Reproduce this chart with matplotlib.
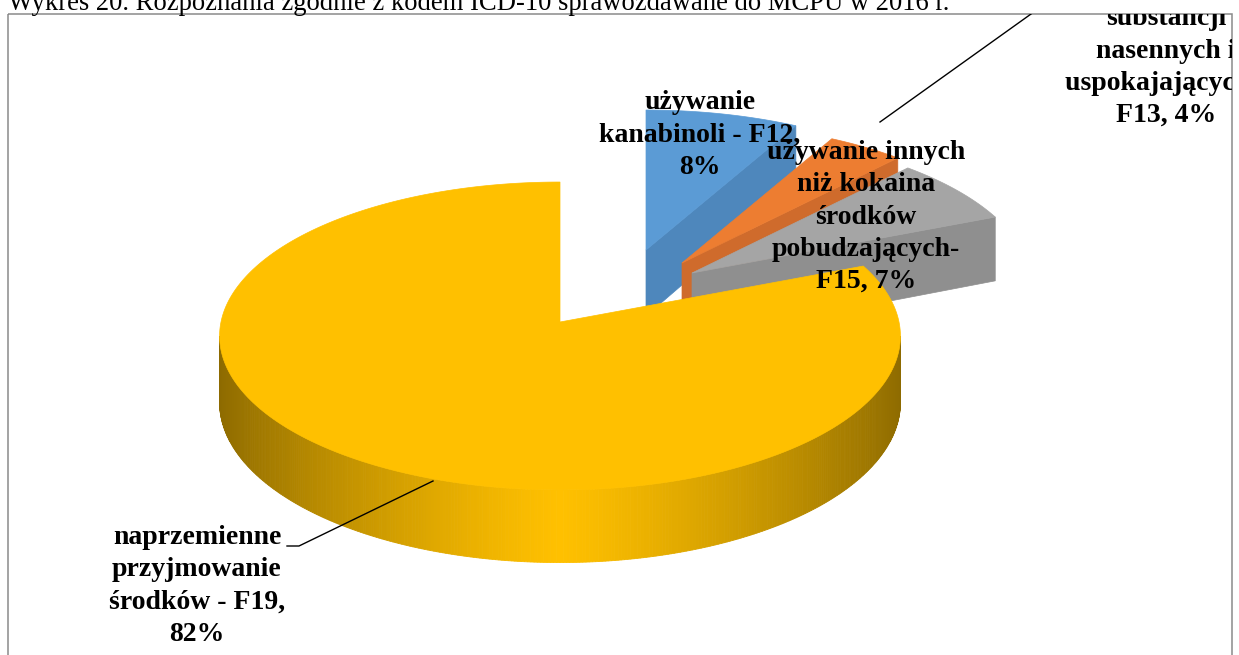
import numpy as np
import matplotlib
matplotlib.use("Agg")
import matplotlib.pyplot as plt
from matplotlib.patches import Polygon, Rectangle
from matplotlib.colors import to_rgb
from matplotlib.transforms import Bbox

# ---------------- data ----------------
title = "Wykres 20. Rozpoznania zgodnie z kodem ICD-10 sprawozdawane do MCPU w 2016 r."
categories = [
    "używanie\nkanabinoli - F12",
    "używanie\nsubstancji\nnasennych i\nuspokajających -\nF13",
    "używanie innych\nniż kokaina\nśrodków\npobudzających-\nF15",
    "naprzemienne\nprzyjmowanie\nśrodków - F19",
]
values = [8, 4, 7, 82]  # percent
colors = ["#5B9BD5", "#ED7D31", "#A5A5A5", "#FFC000"]
wall_colors = ["#4E87BC", "#CF6B2C", "#8F8F8F", "#C89600"]
label_sep = [",\n", ", ", ", ", ",\n"]

# ---------------- layout (pixel space) ----------------
W, H = 1239, 655
CX, CY = 560, 322
RX, RY = 339, 152.7
P = 0.0909      # perspective
T = 66          # thickness
explode = [(86, -72), (122, -59), (132, -49), (0, 0)]
label_pos = [(700, 135), (1166, 51), (866, 217), (197, 586)]

fig = plt.figure(figsize=(W / 100, H / 100), dpi=100)
ax = fig.add_axes([0, 0, 1, 1])
ax.set_xlim(0, W)
ax.set_ylim(H, 0)
ax.axis("off")


def proj(theta_deg, r, z, off):
    th = np.radians(theta_deg)
    u = r * np.sin(th)
    v = r * np.cos(th)
    s = 1.0 / (1.0 + P * v)
    X = CX + off[0] + RX * u * s
    Y = CY + off[1] - RY * v * s + T * z * s
    return X, Y


def shade(color, f):
    c = np.array(to_rgb(color))
    return tuple(np.clip(c * f, 0, 1))


total = float(sum(values))
starts = np.concatenate([[0], np.cumsum(values)[:-1]]) / total * 360
ends = np.cumsum(values) / total * 360

sil1 = np.degrees(np.arccos(-P))
sil2 = 360 - sil1

for i, (a, b) in enumerate(zip(starts, ends)):
    off = explode[i]
    col = colors[i]
    # front curved wall (gradient)
    lo, hi = max(a, sil1), min(b, sil2)
    if hi > lo:
        ths = np.linspace(lo, hi, int((hi - lo) * 2) + 2)
        for t0, t1 in zip(ths[:-1], ths[1:]):
            tm = 0.5 * (t0 + t1)
            u = abs(np.sin(np.radians(tm)))
            f = 1 - 0.45 * u ** 1.2
            pts = [proj(t0, 1, 0, off), proj(t1, 1, 0, off),
                   proj(t1, 1, 1, off), proj(t0, 1, 1, off)]
            ax.add_patch(Polygon(pts, closed=True, facecolor=shade(col, f),
                                 edgecolor=shade(col, f), lw=0.6, zorder=2))
    # radial walls
    for ang, is_end in ((a, False), (b, True)):
        s = np.sin(np.radians(ang))
        vis = (s > 1e-6) if is_end else (s < -1e-6)
        if vis:
            pts = [proj(ang, 0, 0, off), proj(ang, 1, 0, off),
                   proj(ang, 1, 1, off), proj(ang, 0, 1, off)]
            ax.add_patch(Polygon(pts, closed=True, facecolor=wall_colors[i],
                                 edgecolor=wall_colors[i], lw=0.5, zorder=2))
    # top face
    ths = np.linspace(a, b, max(int((b - a) * 2), 4))
    pts = [proj(0, 0, 0, off)] + [proj(t, 1, 0, off) for t in ths]
    ax.add_patch(Polygon(pts, closed=True, facecolor=col, edgecolor=col,
                         lw=0.5, zorder=2))

# border of chart area
border = Rectangle((8, 14), 1224, 700, fill=False, edgecolor="#8A8A8A",
                   lw=1.1, zorder=5)
ax.add_patch(border)
# clip box in display pixels (origin bottom-left)
clip_box = Bbox([[8, 0], [1232, H - 14]])

# labels
font = dict(family=["Liberation Serif", "DejaVu Serif"], fontsize=20,
            fontweight="bold", color="black")
for i, cat in enumerate(categories):
    txt = f"{cat}{label_sep[i]}{values[i]}%"
    t = ax.text(label_pos[i][0], label_pos[i][1], txt, ha="center",
                va="center", multialignment="center", linespacing=1.37,
                zorder=6, **font)
    t.set_clip_on(True)
    t.set_clip_path(None)
    t.set_clip_box(clip_box)

# leader lines
l1, = ax.plot([880, 1045], [122, 4], color="black", lw=1.0, zorder=6)
l1.set_clip_path(None)
l1.set_clip_box(clip_box)
ax.plot([433, 299, 287], [481, 546, 546], color="black", lw=1.0, zorder=6)

# title (partly cut at the top)
ax.text(8, 10, title, ha="left", va="baseline", fontsize=19.2,
        family=["Liberation Serif", "DejaVu Serif"], color="black",
        clip_on=False, zorder=6)

fig.savefig("out.png", dpi=100)
